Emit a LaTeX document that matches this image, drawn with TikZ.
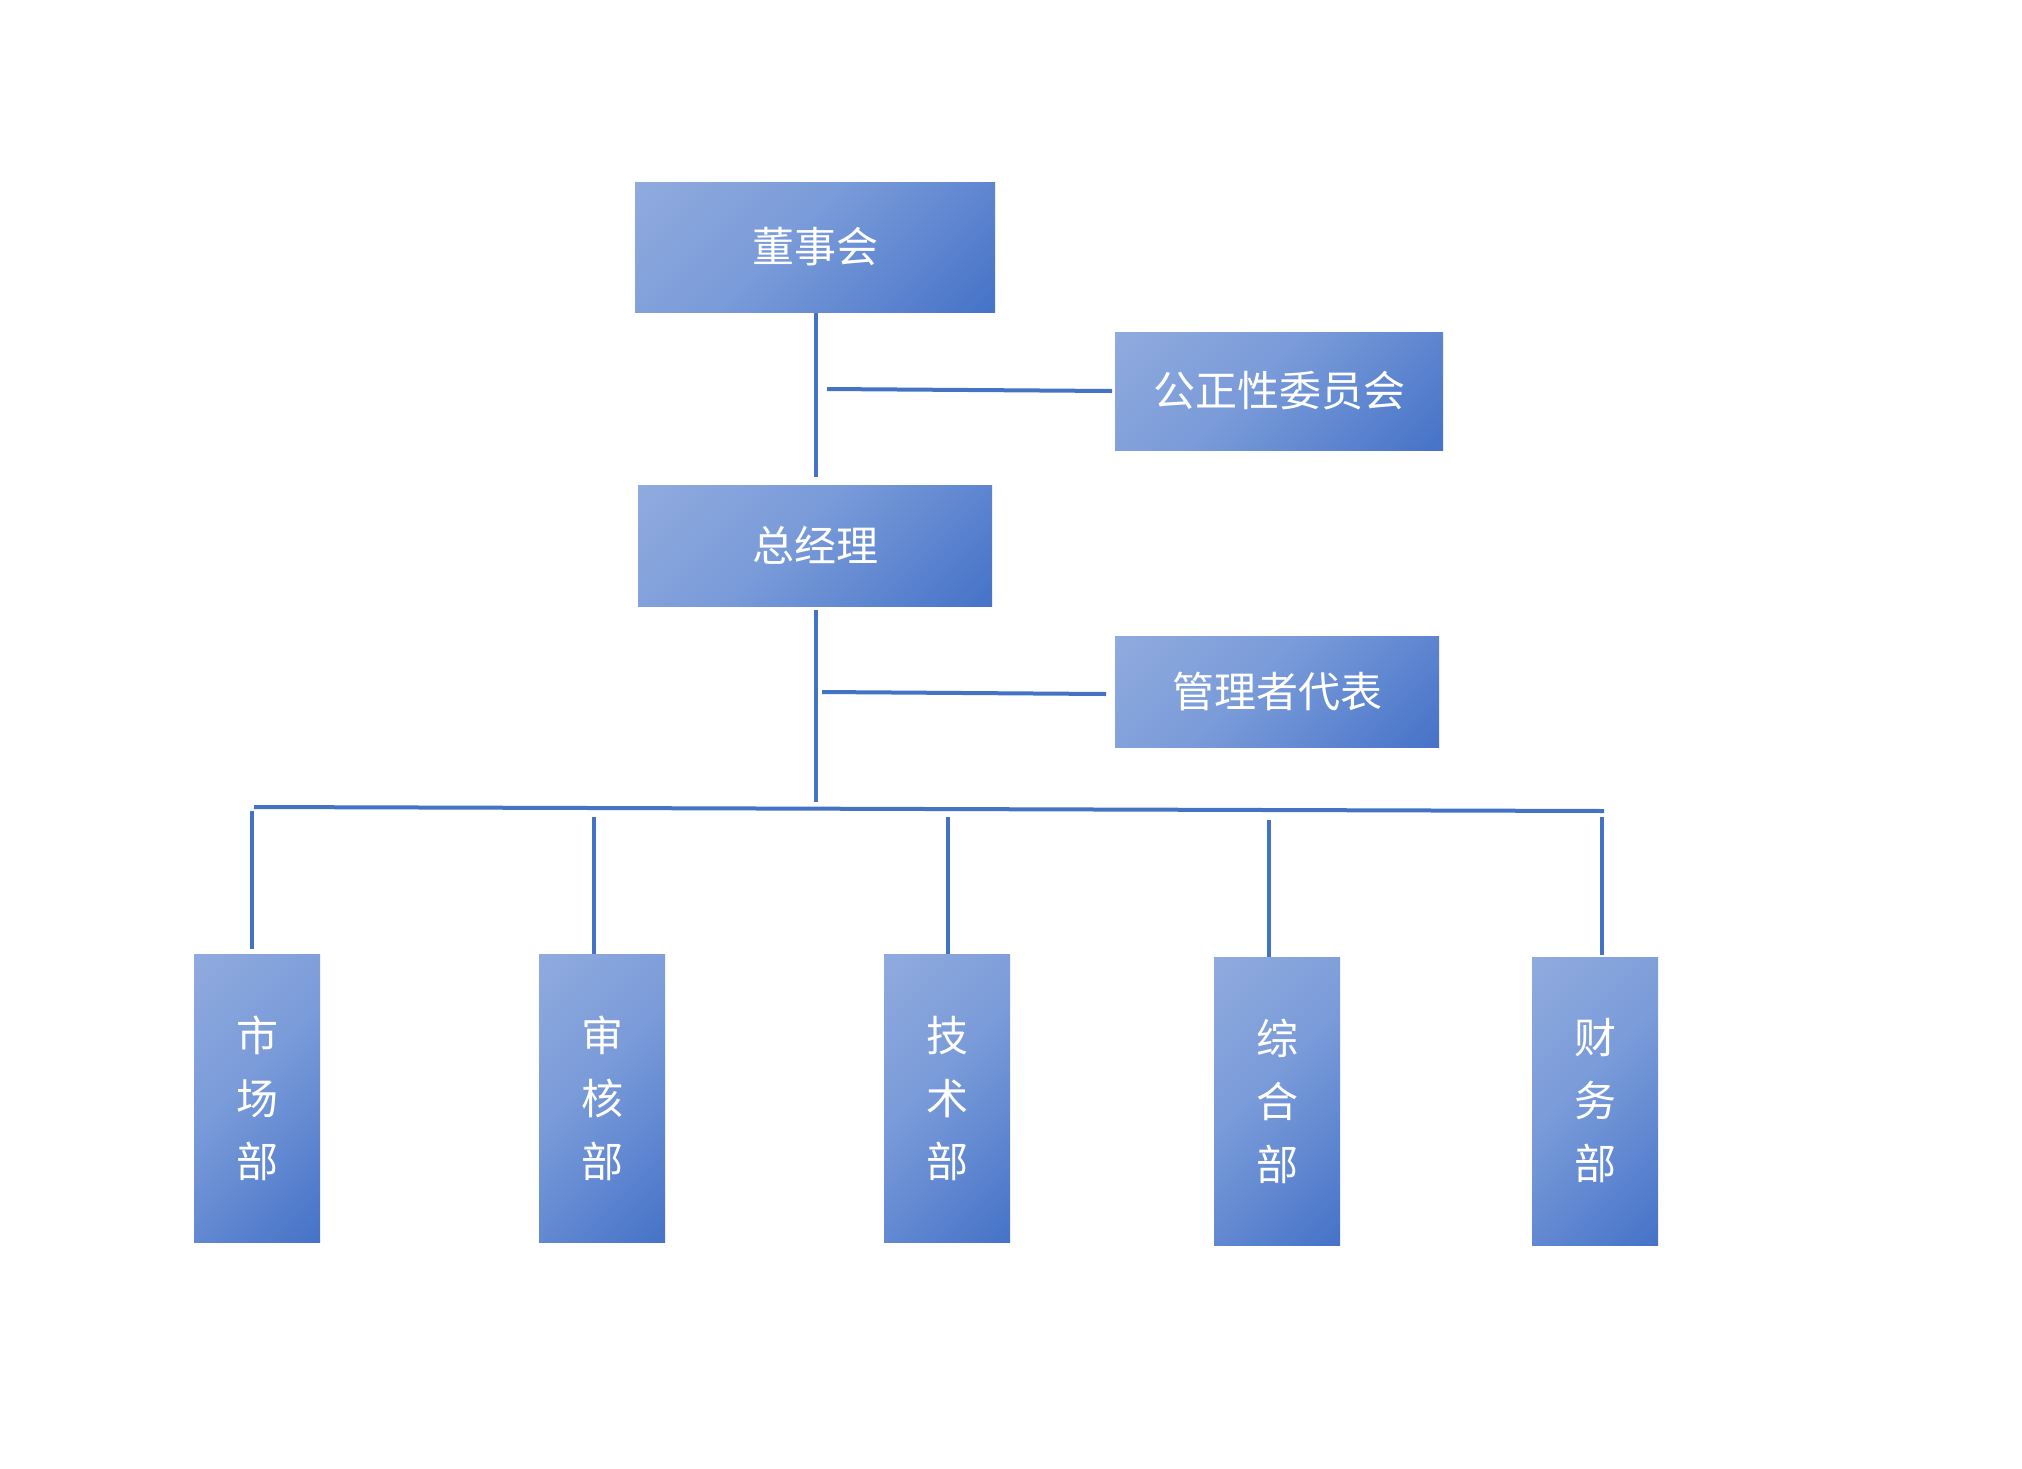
\documentclass[tikz,border=0pt]{standalone}
\usepackage{fontspec}
\newfontfamily\cjk{Noto Sans CJK SC}
\definecolor{lineblue}{RGB}{68,114,196}
\definecolor{gL}{RGB}{143,170,222}
\definecolor{gM}{RGB}{122,155,217}
\definecolor{gD}{RGB}{70,115,200}
\pgfdeclarehorizontalshading{boxgrad}{100bp}{color(0bp)=(gL); color(15bp)=(gL); color(45bp)=(gM); color(85bp)=(gD); color(100bp)=(gD)}
\tikzset{
  orgbox/.style={shading=boxgrad, shading angle=-45, inner sep=0pt, outer sep=0pt,
    text=white, font=\cjk\fontsize{42}{63}\selectfont, align=center},
  deptbox/.style={orgbox, minimum width=126pt, minimum height=288pt},
  conn/.style={draw=lineblue, line width=4pt}
}
\begin{document}
\begin{tikzpicture}[x=1pt,y=-1pt]
\useasboundingbox (0,0) rectangle (2022,1468);
\fill[white] (0,0) rectangle (2022,1468);
% top boxes
\node[orgbox, minimum width=360pt, minimum height=130pt] (dsh) at (815,247) {董事会};
\node[orgbox, minimum width=328pt, minimum height=118pt] (gzx) at (1279,391) {公正性委员会};
\node[orgbox, minimum width=354pt, minimum height=121pt] (zjl) at (815,545.5) {总经理};
\node[orgbox, minimum width=324pt, minimum height=111pt] (gld) at (1277,691.5) {管理者代表};
% departments
\node[deptbox] (sc) at (257,1098) {市\\场\\部};
\node[deptbox] (sh) at (602,1098) {审\\核\\部};
\node[deptbox] (js) at (947,1098) {技\\术\\部};
\node[deptbox] (zh) at (1277,1101) {综\\合\\部};
\node[deptbox] (cw) at (1595,1101) {财\\务\\部};
% connector end points
\coordinate (v1a) at (816,313);
\coordinate (v1b) at (816,477);
\coordinate (h1a) at (827,389);
\coordinate (h1b) at (1112,391);
\coordinate (v2a) at (816,610);
\coordinate (v2b) at (816,802);
\coordinate (h2a) at (822,692);
\coordinate (h2b) at (1106,694);
\coordinate (busa) at (254,807);
\coordinate (busb) at (1604,811);
\coordinate (d1a) at (252,811);
\coordinate (d1b) at (252,949);
\coordinate (d2a) at (594,817);
\coordinate (d3a) at (948,817);
\coordinate (d4a) at (1269,820);
\coordinate (d5a) at (1602,817);
\coordinate (d5b) at (1602,955);
% connectors
\draw[conn] (v1a) -- (v1b);
\draw[conn] (h1a) -- (h1b);
\draw[conn] (v2a) -- (v2b);
\draw[conn] (h2a) -- (h2b);
\draw[conn] (busa) -- (busb);
\draw[conn] (d1a) -- (d1b);
\draw[conn] (d2a) -- (d2a |- sh.north);
\draw[conn] (d3a) -- (d3a |- js.north);
\draw[conn] (d4a) -- (d4a |- zh.north);
\draw[conn] (d5a) -- (d5b);
\end{tikzpicture}
\end{document}
